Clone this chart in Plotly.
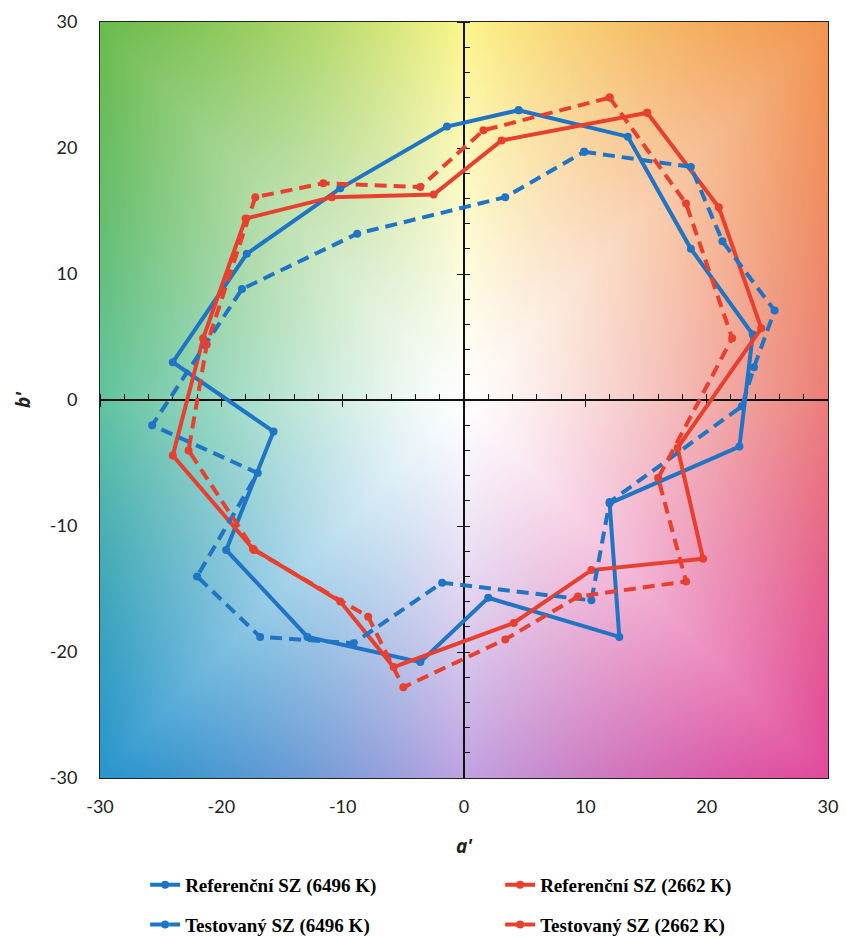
import base64
import struct
import zlib

import numpy as np
import plotly.graph_objects as go

# ---------------- data (a', b') ----------------
ref6496_a = [4.5, 13.5, 18.7, 23.8, 22.7, 12.0, 12.8, 2.0, -3.6, -12.9, -19.6, -15.7, -24.0, -17.9, -10.2, -1.4]
ref6496_b = [23.0, 20.9, 12.0, 5.2, -3.7, -8.2, -18.8, -15.7, -20.8, -18.8, -11.9, -2.5, 3.0, 11.6, 16.8, 21.7]

test6496_a = [9.9, 18.7, 21.3, 25.6, 23.9, 22.9, 12.0, 10.5, -1.8, -9.1, -16.8, -22.0, -17.0, -25.7, -18.3, -8.8, 3.4]
test6496_b = [19.7, 18.5, 12.6, 7.1, 2.6, -0.5, -8.1, -15.9, -14.5, -19.3, -18.8, -14.0, -5.8, -2.0, 8.8, 13.2, 16.1]

ref2662_a = [15.1, 21.0, 24.5, 17.6, 19.7, 10.5, 4.1, -5.8, -10.2, -17.4, -24.0, -21.5, -18.0, -10.9, -2.5, 3.1]
ref2662_b = [22.8, 15.3, 5.7, -3.8, -12.6, -13.5, -17.7, -21.2, -16.0, -11.8, -4.4, 4.9, 14.4, 16.1, 16.3, 20.6]

test2662_a = [12.0, 18.3, 22.1, 16.0, 18.3, 9.4, 3.4, -5.0, -7.9, -17.3, -22.7, -21.2, -17.2, -11.6, -3.6, 1.6]
test2662_b = [24.0, 15.6, 4.9, -6.2, -14.4, -15.6, -19.0, -22.8, -17.2, -11.9, -4.0, 4.4, 16.1, 17.2, 16.9, 21.4]

names = ["Referenční SZ (6496 K)", "Referenční SZ (2662 K)",
         "Testovaný SZ (6496 K)", "Testovaný SZ (2662 K)"]
tick_vals = [-30, -20, -10, 0, 10, 20, 30]
tick_text = ["-30", "-20", "-10", "0", "10", "20", "30"]

BLUE = "#1f74c4"
RED = "#e8402e"


def closed(v):
    return list(v) + [v[0]]


# ---------------- background colour field ----------------
def png_data_uri(arr):
    h, w, _ = arr.shape
    raw = b"".join(b"\x00" + arr[i].tobytes() for i in range(h))

    def chunk(tag, data):
        c = struct.pack(">I", len(data)) + tag + data
        return c + struct.pack(">I", zlib.crc32(tag + data) & 0xFFFFFFFF)

    png = (b"\x89PNG\r\n\x1a\n"
           + chunk(b"IHDR", struct.pack(">IIBBBBB", w, h, 8, 2, 0, 0, 0))
           + chunk(b"IDAT", zlib.compress(raw, 9))
           + chunk(b"IEND", b""))
    return "data:image/png;base64," + base64.b64encode(png).decode()


N = 160
av = np.linspace(-30, 30, N)
bv = np.linspace(30, -30, N)
A, B = np.meshgrid(av, bv)
ang = np.degrees(np.arctan2(B, A)) % 360
anchor_ang = [0, 45, 90, 135, 180, 225, 270, 315, 360]
anchor_col = np.array([
    (236, 128, 122),   # right: salmon
    (242, 150, 82),    # top-right: orange
    (252, 246, 140),   # top: yellow
    (108, 188, 78),    # top-left: green
    (98, 196, 160),    # left: mint/teal
    (42, 150, 205),    # bottom-left: blue
    (192, 164, 226),   # bottom: lavender
    (226, 76, 156),    # bottom-right: magenta
    (236, 128, 122),
], dtype=float)
s = np.clip(np.maximum(np.abs(A), np.abs(B)) / 30.0, 0, 1)
t = s ** 1.2
rgb = np.empty(A.shape + (3,))
for c in range(3):
    col = np.interp(ang, anchor_ang, anchor_col[:, c])
    rgb[..., c] = 255 * (1 - t) + col * t
bg = np.clip(rgb, 0, 255).astype(np.uint8)

# ---------------- figure ----------------
fig = go.Figure()

series = [
    (ref6496_a, ref6496_b, names[0], BLUE, "solid", "legend"),
    (ref2662_a, ref2662_b, names[1], RED, "solid", "legend"),
    (test6496_a, test6496_b, names[2], BLUE, "12px,7px", "legend2"),
    (test2662_a, test2662_b, names[3], RED, "12px,7px", "legend2"),
]
for a, b, nm, col, dash, lg in series:
    fig.add_trace(go.Scatter(
        x=closed(a), y=closed(b), name=nm, mode="lines+markers",
        line=dict(color=col, width=4, dash=dash),
        marker=dict(color=col, size=8, symbol="circle"),
        legend=lg,
    ))

# invisible helpers so the zero-position axes get drawn
fig.add_trace(go.Scatter(x=[0], y=[0], xaxis="x2", yaxis="y", mode="markers",
                         marker=dict(opacity=0), showlegend=False, hoverinfo="skip"))
fig.add_trace(go.Scatter(x=[0], y=[0], xaxis="x", yaxis="y2", mode="markers",
                         marker=dict(opacity=0), showlegend=False, hoverinfo="skip"))

fig.add_layout_image(dict(
    source=png_data_uri(bg), xref="x", yref="y", x=-30, y=30,
    sizex=60, sizey=60, sizing="stretch", layer="below",
))

tick_font = dict(family="Lato, Open Sans, sans-serif", size=18, color="#222")
title_font = dict(family="Open Sans, Arial, sans-serif", size=19, color="#222")
leg_font = dict(family="Liberation Serif, Times New Roman, serif", size=19,
                color="#000", weight="bold")

fig.update_layout(
    width=846, height=940,
    margin=dict(l=100, r=18, t=22, b=162, autoexpand=False),
    paper_bgcolor="white",
    plot_bgcolor="rgba(0,0,0,0)",
    xaxis=dict(
        range=[-30, 30], tickmode="array", tickvals=tick_vals, ticktext=tick_text,
        showline=True, mirror=True, linecolor="#222", linewidth=1,
        ticks="", showgrid=False, zeroline=False, tickfont=tick_font,
        ticklabelstandoff=12, automargin=False,
        title=dict(text="<b><i>a'</i></b>", font=title_font, standoff=24),
    ),
    yaxis=dict(
        range=[-30, 30], tickmode="array", tickvals=tick_vals, ticktext=tick_text,
        showline=True, mirror=True, linecolor="#222", linewidth=1,
        ticks="", showgrid=False, zeroline=False, tickfont=tick_font,
        ticklabelstandoff=18, automargin=False,
        title=dict(text="<b><i>b'</i></b>", font=title_font, standoff=14),
    ),
    xaxis2=dict(
        overlaying="x", anchor="free", position=0.5, range=[-30, 30],
        showline=True, linecolor="#111", linewidth=1.5,
        ticks="outside", tick0=0, dtick=10, ticklen=6, tickcolor="#111", tickwidth=1.2,
        minor=dict(ticks="inside", dtick=2, ticklen=5, tickcolor="#111", tickwidth=1),
        showticklabels=False, showgrid=False, zeroline=False, layer="below traces",
    ),
    yaxis2=dict(
        overlaying="y", anchor="free", position=0.5, range=[-30, 30],
        showline=True, linecolor="#111", linewidth=1.5,
        ticks="outside", tick0=0, dtick=10, ticklen=6, tickcolor="#111", tickwidth=1.2,
        minor=dict(ticks="inside", dtick=2, ticklen=5, tickcolor="#111", tickwidth=1),
        showticklabels=False, showgrid=False, zeroline=False, layer="below traces",
    ),
    legend=dict(
        orientation="h", x=0.062, xanchor="left", y=-0.1415, yanchor="middle",
        entrywidth=310, entrywidthmode="pixels", font=leg_font,
        bgcolor="rgba(0,0,0,0)",
    ),
    legend2=dict(
        orientation="h", x=0.062, xanchor="left", y=-0.194, yanchor="middle",
        entrywidth=310, entrywidthmode="pixels", font=leg_font,
        bgcolor="rgba(0,0,0,0)",
    ),
    showlegend=True,
)

fig.write_html(
    "out.html",
    config={"displayModeBar": False},
    post_script="document.body.style.margin='0';document.body.style.padding='0';",
)
